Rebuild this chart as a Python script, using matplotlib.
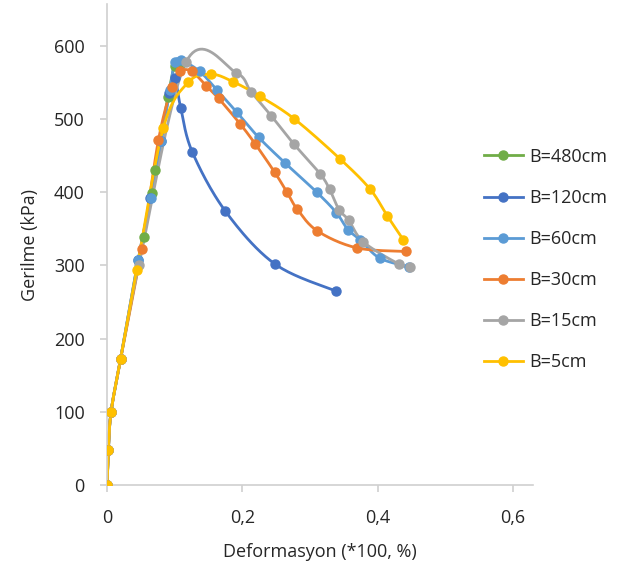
import numpy as np
import matplotlib
matplotlib.use("Agg")
import matplotlib.pyplot as plt
from matplotlib.lines import Line2D
from matplotlib.ticker import FuncFormatter

plt.rcParams['font.family'] = ['Open Sans', 'DejaVu Sans']

# deformasyon / gerilme okumalari, her genislik icin
labels = ["B=480cm", "B=120cm", "B=60cm", "B=30cm", "B=15cm", "B=5cm"]
colors = ["#70AD47", "#4472C4", "#5B9BD5", "#ED7D31", "#A5A5A5", "#FFC000"]

x_480 = [0, 0.002, 0.006, 0.020, 0.054, 0.066, 0.071, 0.090, 0.100, 0.110]
y_480 = [0, 48, 100, 172, 339, 399, 430, 530, 572, 576]

x_120 = [0, 0.002, 0.006, 0.020, 0.046, 0.064, 0.080, 0.092, 0.100, 0.109, 0.126, 0.175, 0.248, 0.338]
y_120 = [0, 48, 100, 172, 307, 392, 470, 535, 556, 515, 455, 374, 302, 265]

x_60 = [0, 0.002, 0.006, 0.020, 0.046, 0.065, 0.080, 0.093, 0.100, 0.110, 0.137, 0.162, 0.192,
        0.224, 0.263, 0.310, 0.339, 0.356, 0.374, 0.403, 0.447]
y_60 = [0, 48, 100, 172, 307, 392, 470, 540, 578, 580, 565, 540, 509,
        475, 440, 400, 372, 349, 335, 310, 298]

x_30 = [0, 0.002, 0.006, 0.020, 0.051, 0.076, 0.096, 0.108, 0.125, 0.147, 0.165, 0.197, 0.219,
        0.248, 0.266, 0.281, 0.311, 0.369, 0.442]
y_30 = [0, 48, 100, 172, 322, 471, 544, 565, 565, 545, 528, 493, 466,
        427, 400, 377, 347, 324, 319]

x_15 = [0, 0.002, 0.006, 0.020, 0.047, 0.117, 0.191, 0.213, 0.243, 0.276, 0.315, 0.329,
        0.343, 0.357, 0.379, 0.431, 0.448]
y_15 = [0, 48, 100, 172, 300, 578, 563, 537, 504, 466, 425, 404,
        376, 362, 332, 302, 298]

x_5 = [0, 0.002, 0.006, 0.020, 0.044, 0.083, 0.120, 0.154, 0.186, 0.226, 0.277, 0.345, 0.389,
       0.414, 0.438]
y_5 = [0, 48, 100, 172, 294, 487, 550, 561, 551, 531, 500, 445, 404,
       368, 335]

series = [(x_480, y_480), (x_120, y_120), (x_60, y_60), (x_30, y_30), (x_15, y_15), (x_5, y_5)]


def smooth(x, y, n=24):
    # Excel tarzi yumusatma: Catmull-Rom -> kubik Bezier
    p = np.column_stack([x, y]).astype(float)
    out = [p[0]]
    t = np.linspace(0, 1, n)[1:, None]
    for i in range(len(p) - 1):
        p0 = p[i - 1] if i > 0 else p[i]
        p1, p2 = p[i], p[i + 1]
        p3 = p[i + 2] if i + 2 < len(p) else p[i + 1]
        c1 = p1 + (p2 - p0) / 6
        c2 = p2 - (p3 - p1) / 6
        seg = ((1 - t) ** 3) * p1 + 3 * ((1 - t) ** 2) * t * c1 + 3 * (1 - t) * t ** 2 * c2 + t ** 3 * p2
        out.extend(seg)
    out = np.array(out)
    return out[:, 0], out[:, 1]


fig = plt.figure(figsize=(6.24, 5.72), dpi=100)
ax = fig.add_axes([0.1715, 0.152, 0.683, 0.841])

for (xs, ys), c in zip(series, colors):
    sx, sy = smooth(xs, ys)
    ax.plot(sx, sy, color=c, lw=2.0, solid_capstyle='round', zorder=2)
    ax.plot(xs, ys, 'o', color=c, ms=6.5, mec=c, zorder=3)

ax.set_xlim(0, 0.63)
ax.set_ylim(0, 657)
ax.set_xticks([0, 0.2, 0.4, 0.6])
ax.set_yticks(range(0, 601, 100))
ax.xaxis.set_major_formatter(FuncFormatter(lambda v, p: ('%g' % round(v, 2)).replace('.', ',')))

for s in ['top', 'right']:
    ax.spines[s].set_visible(False)
for s in ['left', 'bottom']:
    ax.spines[s].set_color('#d0d0d0')
    ax.spines[s].set_linewidth(1.2)
ax.tick_params(axis='both', colors='#d0d0d0', length=5, width=1.2, labelcolor='#262626',
               labelsize=13)
ax.tick_params(axis='y', pad=11)
ax.tick_params(axis='x', pad=12)

ax.set_xlabel("Deformasyon (*100, %)", fontsize=13, color='#262626', labelpad=12)
ax.set_ylabel("Gerilme (kPa)", fontsize=13, color='#262626', labelpad=11)

handles = [Line2D([], [], color=c, lw=2.0, marker='o', ms=6.5) for c in colors]
fig.legend(handles, labels, loc='upper left', bbox_to_anchor=(0.749, 0.77), frameon=False,
           fontsize=13, labelspacing=1.28, handlelength=2.2, handletextpad=0.35,
           labelcolor='#262626')

fig.savefig("out.png", dpi=100)
